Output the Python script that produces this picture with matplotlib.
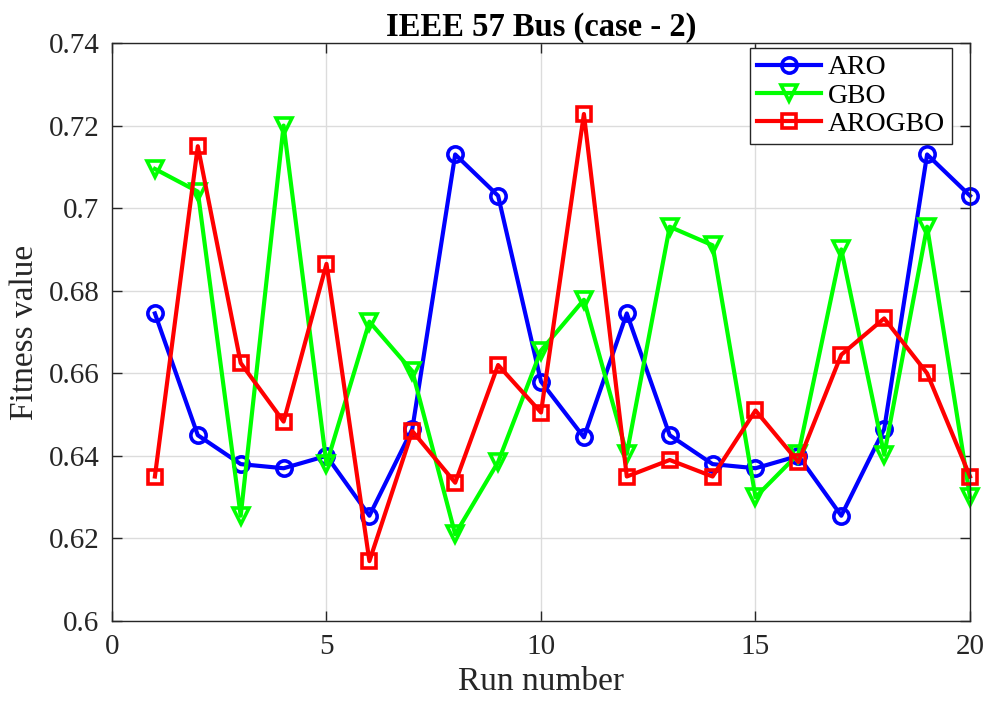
import matplotlib
matplotlib.use("Agg")
import matplotlib.pyplot as plt

runs = list(range(1, 21))
aro = [0.6745, 0.645, 0.638, 0.637, 0.640, 0.6255, 0.6465, 0.713, 0.703, 0.658,
       0.6445, 0.6745, 0.645, 0.638, 0.637, 0.640, 0.6255, 0.6465, 0.713, 0.703]
gbo = [0.7095, 0.704, 0.6255, 0.720, 0.638, 0.6725, 0.6605, 0.621, 0.6385, 0.6655,
       0.6778, 0.6405, 0.6955, 0.691, 0.630, 0.6405, 0.690, 0.6403, 0.6955, 0.630]
arogbo = [0.635, 0.715, 0.6625, 0.6483, 0.6865, 0.6145, 0.646, 0.6335, 0.662, 0.6505,
          0.7228, 0.635, 0.639, 0.635, 0.651, 0.6385, 0.6645, 0.6733, 0.660, 0.635]

plt.rcParams['font.family'] = ['Liberation Serif', 'DejaVu Serif']

W, H = 987, 704
L, R, T, B = 112, 970, 43, 621
fig = plt.figure(figsize=(W / 100, H / 100), dpi=100)
ax = fig.add_axes([L / W, (H - B) / H, (R - L) / W, (B - T) / H])

lw = 3.0
ax.plot(runs, aro, color='#0000ff', lw=lw, marker='o', ms=11, mfc='none', mew=2.6, label='ARO', clip_on=False)
ax.plot(runs, gbo, color='#00ff00', lw=lw, marker='v', ms=12, mfc='none', mew=2.6, label='GBO', clip_on=False)
ax.plot(runs, arogbo, color='#ff0000', lw=lw, marker='s', ms=10, mfc='none', mew=2.6, label='AROGBO', clip_on=False)

ax.set_xlim(0, 20)
ax.set_ylim(0.6, 0.74)
ax.set_xticks([0, 5, 10, 15, 20])
ax.set_yticks([0.6, 0.62, 0.64, 0.66, 0.68, 0.7, 0.72, 0.74])
ax.set_yticklabels(['0.6', '0.62', '0.64', '0.66', '0.68', '0.7', '0.72', '0.74'])
ax.grid(True, color='#dcdcdc', lw=1)
ax.set_axisbelow(True)
ax.tick_params(direction='in', length=7, width=1, labelsize=21, top=True, right=True,
               colors='#262626', pad=9)
for s in ax.spines.values():
    s.set_color('#262626')
    s.set_linewidth(1)

ax.set_xlabel('Run number', fontsize=24, color='#262626', labelpad=5)
ax.set_ylabel('Fitness value', fontsize=24, color='#262626', labelpad=6)
ax.set_title('IEEE 57 Bus (case - 2)', fontsize=23.5, fontweight='bold', pad=5)

leg = ax.legend(loc='upper right', bbox_to_anchor=((952 - L) / (R - L), 1 - (48 - T) / (B - T)),
                fontsize=20, frameon=True, fancybox=False,
                edgecolor='#262626', framealpha=1, borderpad=0.25, labelspacing=0.1,
                handlelength=2.3, handletextpad=0.25, borderaxespad=0)
leg.get_frame().set_linewidth(1)

fig.savefig('out.png', dpi=100)
